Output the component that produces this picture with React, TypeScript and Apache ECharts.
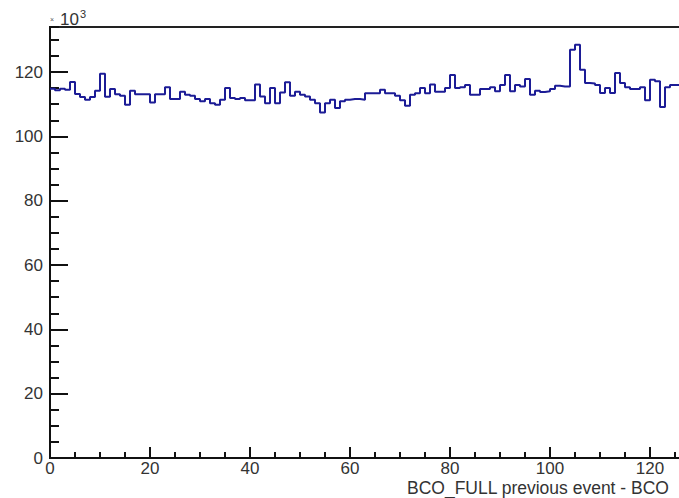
import { useEffect, useRef } from 'react';
import * as echarts from 'echarts';

// entries per bin (x 10^3), bins of width 1 starting at 0
const binCounts = [
  114.8, 114.3, 114.8, 114.5, 116.9, 113.2, 112.2, 111.4, 112.2, 114.2,
  119.5, 112.3, 114.7, 113.1, 112.6, 109.8, 114.2, 113.1, 113.1, 113.1,
  110.5, 113.1, 113.1, 115.3, 111.6, 111.6, 113.9, 112.9, 112.6, 111.6,
  110.9, 111.6, 110.3, 109.8, 111.4, 115.0, 111.9, 111.6, 111.9, 111.2,
  111.2, 116.1, 112.4, 110.3, 115.0, 110.3, 113.6, 116.8, 112.6, 113.9,
  112.9, 112.4, 111.4, 110.3, 107.4, 110.3, 111.4, 108.8, 110.9, 111.4,
  111.6, 111.6, 111.4, 113.4, 113.4, 113.4, 114.5, 113.4, 113.4, 112.6,
  111.2, 109.5, 112.9, 113.4, 115.0, 113.4, 116.1, 113.9, 113.9, 115.0,
  119.1, 115.0, 115.3, 116.0, 112.9, 112.9, 114.7, 114.7, 115.3, 114.0,
  116.0, 119.1, 114.0, 116.0, 115.5, 117.8, 112.9, 114.2, 113.8, 114.0,
  114.7, 115.7, 115.5, 115.5, 126.9, 128.5, 120.7, 116.6, 116.4, 116.0,
  113.5, 115.0, 113.5, 119.7, 116.6, 115.3, 114.7, 114.7, 115.3, 111.2,
  117.6, 117.1, 109.1, 115.3, 116.0, 116.0,
];

const xTickLabels = [0, 20, 40, 60, 80, 100, 120];
const yTickLabels = [0, 20, 40, 60, 80, 100, 120];
const xTitle = 'BCO_FULL previous event - BCO';

const FONT = '"Liberation Sans", Arial, sans-serif';

export default function App() {
  const chartRef = useRef<HTMLDivElement>(null);

  useEffect(() => {
    if (!chartRef.current) return;
    const chart = echarts.init(chartRef.current, null, { renderer: 'svg' });

    const steps = binCounts.map((v, i) => [i, v]);
    steps.push([binCounts.length, binCounts[binCounts.length - 1]]);

    const labelStyle = {
      color: '#333333',
      fontSize: 17,
      lineHeight: 17,
      fontFamily: FONT,
    };

    const option: echarts.EChartsOption = {
      animation: false,
      backgroundColor: '#ffffff',
      grid: {
        left: 50,
        top: 27,
        width: 640,
        height: 431,
        show: true,
        borderColor: '#222222',
        borderWidth: 2,
        backgroundColor: 'transparent',
      },
      xAxis: [
        {
          type: 'value',
          min: 0,
          max: 128,
          interval: 20,
          position: 'bottom',
          axisLine: { show: true, onZero: false, lineStyle: { color: '#111111', width: 2 } },
          axisTick: { show: true, inside: true, length: 11, lineStyle: { color: '#111111', width: 2 } },
          axisLabel: {
            ...labelStyle,
            margin: 2,
            showMaxLabel: false,
            formatter: (v: number) => (xTickLabels.includes(v) ? String(v) : ''),
          },
          splitLine: { show: false },
        },
        {
          type: 'value',
          min: 0,
          max: 128,
          interval: 5,
          position: 'bottom',
          axisLine: { show: false },
          axisTick: { show: true, inside: true, length: 6, lineStyle: { color: '#111111', width: 2 } },
          axisLabel: { show: false },
          splitLine: { show: false },
        },
      ],
      yAxis: [
        {
          type: 'value',
          min: 0,
          max: 134,
          interval: 20,
          position: 'left',
          axisLine: { show: true, onZero: false, lineStyle: { color: '#111111', width: 2 } },
          axisTick: { show: true, inside: true, length: 18, lineStyle: { color: '#111111', width: 2 } },
          axisLabel: {
            ...labelStyle,
            margin: 7,
            showMaxLabel: false,
            formatter: (v: number) => (yTickLabels.includes(v) ? String(v) : ''),
          },
          splitLine: { show: false },
        },
        {
          type: 'value',
          min: 0,
          max: 134,
          interval: 5,
          position: 'left',
          axisLine: { show: false },
          axisTick: { show: true, inside: true, length: 9, lineStyle: { color: '#111111', width: 2 } },
          axisLabel: { show: false },
          splitLine: { show: false },
        },
      ],
      graphic: [
        {
          type: 'text',
          left: 407,
          top: 479,
          style: { text: xTitle, fill: '#333333', font: `17.5px ${FONT}` },
        },
        {
          type: 'text',
          left: 50,
          top: 16,
          style: { text: '×', fill: '#555555', font: `7px ${FONT}` },
        },
        {
          type: 'text',
          left: 60,
          top: 11,
          style: { text: '10', fill: '#333333', font: `17px ${FONT}` },
        },
        {
          type: 'text',
          left: 80,
          top: 8,
          style: { text: '3', fill: '#333333', font: `11px ${FONT}` },
        },
      ],
      series: [
        {
          type: 'line',
          xAxisIndex: 0,
          yAxisIndex: 0,
          step: 'end',
          data: steps,
          showSymbol: false,
          symbol: 'none',
          lineStyle: { color: '#1c1c96', width: 2 },
          silent: true,
        },
      ],
    };

    chart.setOption(option);

    return () => {
      chart.dispose();
    };
  }, []);

  return (
    <div
      style={{
        position: 'fixed',
        left: 0,
        top: 0,
        width: 679,
        height: 498,
        overflow: 'hidden',
        background: '#fff',
      }}
    >
      <div ref={chartRef} style={{ width: 720, height: 498 }} />
    </div>
  );
}
